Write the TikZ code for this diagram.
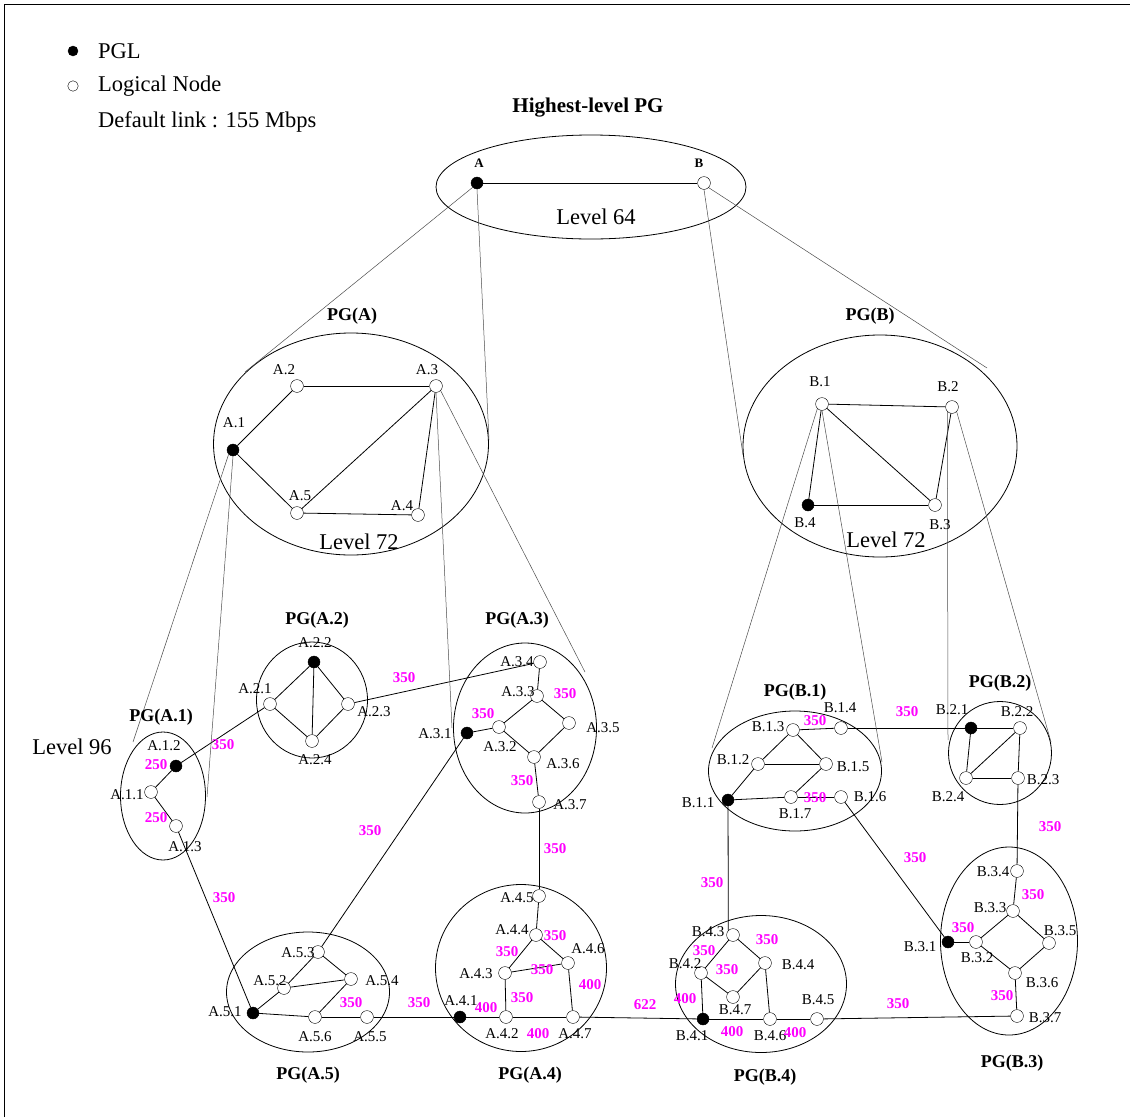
\documentclass[tikz,border=0pt]{standalone}
\usepackage{fontspec}
\setmainfont{Liberation Serif}
\usepackage{xcolor}
\usetikzlibrary{shapes.geometric}
\definecolor{bwmag}{RGB}{255,0,255}

\begin{document}
\begin{tikzpicture}[x=1pt,y=-1pt,
	pgl/.style={circle,draw,fill=black,inner sep=0pt,minimum size=12pt},
	lnode/.style={circle,draw,fill=white,inner sep=0pt,minimum size=12.8pt},
	pgring/.style={ellipse,draw,line width=0.8pt,inner sep=0pt},
	nlab/.style={font=\fontsize{15}{16}\selectfont,inner sep=0pt},
	bw/.style={font=\bfseries\fontsize{15}{16}\selectfont,text=bwmag,inner sep=0pt},
	pgname/.style={font=\bfseries\fontsize{18}{20}\selectfont,inner sep=0pt},
	lvl/.style={font=\fontsize{22.5}{24}\selectfont,inner sep=0pt},
	link/.style={line width=0.8pt},
	proj/.style={line width=0.5pt,black!70}]
	
	\useasboundingbox (0,0) rectangle (1130,1117);
	\draw[line width=0.8pt] (4,1117) -- (4,4) -- (1130,4);
	
	% legend
	\node[pgl,minimum size=10pt] (legPGL) at (73,51) {};
	\node[lnode,minimum size=10.5pt] (legLN) at (73,86) {};
	\node[lvl,anchor=west] (legPGLtxt) at (98,51) {PGL};
	\node[lvl,anchor=west] (legLNtxt) at (98,86) {Logical Node};
	\node[lvl,anchor=west] (legDef) at (98,122) {Default link : 155 Mbps};
	
	% peer groups
	\node[pgring,minimum width=310pt,minimum height=104pt] (pgTop) at (591,187) {};
	\node[pgring,minimum width=275pt,minimum height=222pt] (pgA) at (351,444) {};
	\node[pgring,minimum width=274pt,minimum height=222pt] (pgB) at (880,446) {};
	\node[pgring,minimum width=85pt,minimum height=128pt] (pgA1) at (163,796) {};
	\node[pgring,minimum width=111pt,minimum height=116pt] (pgA2) at (312,700) {};
	\node[pgring,minimum width=143pt,minimum height=170pt] (pgA3) at (525,728) {};
	\node[pgring,minimum width=171pt,minimum height=167pt] (pgA4) at (521,968) {};
	\node[pgring,minimum width=163pt,minimum height=120pt] (pgA5) at (308,992) {};
	\node[pgring,minimum width=173pt,minimum height=120pt] (pgB1) at (795,771) {};
	\node[pgring,minimum width=103pt,minimum height=103pt] (pgB2) at (1000,753) {};
	\node[pgring,minimum width=137pt,minimum height=188pt] (pgB3) at (1009,941) {};
	\node[pgring,minimum width=171pt,minimum height=137pt] (pgB4) at (761,984) {};
	
	% leaders
	\foreach \n/\x/\y in {A/477/183, A1/233/450, B4/808/505, A12/176/766, A22/314/662,
		A31/467/733, A41/460/1017, A51/253/1013, B11/728/800, B21/971/728,
		B31/948/942, B41/703/1019}
		\node[pgl] (\n) at (\x,\y) {};
	
	% logical nodes
	\foreach \n/\x/\y in {B/704/183, A2/297/386, A3/436/386, A4/418/515, A5/297/513,
		B1/822/404, B2/952/407, B3/935/505,
		A11/151/792, A13/176/826,
		A21/270/704, A23/348/704, A24/312/741,
		A32/499/727, A33/537/696, A34/540/662, A35/569/723, A36/534/757, A37/539/802,
		A42/506/1017, A43/505/973, A44/536/935, A45/539/896, A46/568/963, A47/573/1017,
		A52/284/988, A53/318/952, A54/351/979, A55/367/1017, A56/315/1017,
		B12/758/764, B13/793/730, B14/841/728, B15/826/764, B16/841/797, B17/791/797,
		B22/1020/728, B23/1018/778, B24/966/778,
		B32/976/942, B33/1013/911, B34/1017/871, B35/1049/943, B36/1015/973, B37/1017/1016,
		B42/701/973, B43/733/935, B44/765/963, B45/817/1019, B46/770/1019, B47/733/997}
		\node[lnode] (\n) at (\x,\y) {};
	
	% links
	\foreach \u/\v in {A/B, A1/A2, A2/A3, A1/A5, A5/A4, A5/A3, A3/A4,
		B1/B2, B1/B3, B1/B4, B4/B3, B2/B3,
		A11/A12, A11/A13,
		A21/A22, A22/A23, A22/A24, A21/A24, A24/A23,
		A34/A33, A33/A32, A33/A35, A32/A36, A35/A36, A36/A37, A31/A32,
		A45/A44, A44/A43, A44/A46, A43/A46, A43/A42, A46/A47, A41/A42, A42/A47,
		A51/A52, A52/A53, A53/A54, A52/A54, A54/A56, A51/A56, A56/A55,
		B13/B12, B13/B15, B12/B15, B12/B11, B15/B17, B11/B17, B17/B16, B13/B14,
		B21/B22, B21/B24, B24/B22, B24/B23, B22/B23,
		B34/B33, B33/B32, B33/B35, B32/B36, B35/B36, B36/B37, B31/B32,
		B43/B42, B43/B44, B42/B47, B47/B44, B44/B46, B42/B41, B41/B46, B46/B45,
		A12/A21, A23/A34, A13/A51, A31/A53, A37/A45, A55/A41, A47/B41,
		B11/B43.north west, B14/B21, B16/B31, B23/B34, B45/B37}
		\draw[link] (\u) -- (\v);
	
	% projections to the lower level
	\coordinate (tAl) at (245,372);
	\coordinate (tAr) at (489,440);
	\coordinate (tBl) at (743,455);
	\coordinate (tBr) at (987,368);
	\coordinate (tA1l) at (133,742);
	\coordinate (tA1r) at (207,797);
	\coordinate (tA3l) at (452,728);
	\coordinate (tA3r) at (585,672);
	\coordinate (tB1l) at (712,748);
	\coordinate (tB1r) at (882,762);
	\coordinate (tB2l) at (948,740);
	\coordinate (tB2r) at (1051,742);
	\draw[proj] (A.south west) -- (tAl);
	\draw[proj] (A.south) -- (tAr);
	\draw[proj] (B.south) -- (tBl);
	\draw[proj] (B.south east) -- (tBr);
	\draw[proj] (A1.south west) -- (tA1l);
	\draw[proj] (A1.south) -- (tA1r);
	\draw[proj] (A3.south) -- (tA3l);
	\draw[proj] (A3.south east) -- (tA3r);
	\draw[proj] (B1.south west) -- (tB1l);
	\draw[proj] (B1.south) -- (tB1r);
	\draw[proj] (B2.south west) -- (tB2l);
	\draw[proj] (B2.south east) -- (tB2r);
	
	% node names
	\node[nlab,font=\bfseries\fontsize{13}{14}\selectfont] (lA) at (479,163) {A};
	\node[nlab,font=\bfseries\fontsize{13}{14}\selectfont] (lB) at (699,163) {B};
	\foreach \n/\x/\y/\t in {A1/234/423/A.1, A2/284/370/A.2, A3/427/370/A.3, A4/402/506/A.4, A5/300/496/A.5,
		B1/820/382/B.1, B2/948/387/B.2, B3/940/525/B.3, B4/805/523/B.4,
		A11/127/795/A.1.1, A12/164/746/A.1.2, A13/185/847/A.1.3,
		A21/255/689/A.2.1, A22/315/643/A.2.2, A23/374/712/A.2.3, A24/315/760/A.2.4,
		A31/435/734/A.3.1, A32/500/747/A.3.2, A33/518/692/A.3.3, A34/517/662/A.3.4,
		A35/603/728/A.3.5, A36/563/764/A.3.6, A37/570/805/A.3.7,
		A41/461/1001/A.4.1, A42/502/1034/A.4.2, A43/476/974/A.4.3, A44/512/930/A.4.4,
		A45/517/898/A.4.5, A46/588/949/A.4.6, A47/575/1034/A.4.7,
		A51/225/1012/A.5.1, A52/270/981/A.5.2, A53/298/953/A.5.3, A54/382/981/A.5.4,
		A55/370/1037/A.5.5, A56/315/1037/A.5.6,
		B11/698/803/B.1.1, B12/733/760/B.1.2, B13/768/727/B.1.3, B14/840/708/B.1.4,
		B15/853/767/B.1.5, B16/870/797/B.1.6, B17/795/814/B.1.7,
		B21/952/710/B.2.1, B22/1017/712/B.2.2, B23/1043/780/B.2.3, B24/948/797/B.2.4,
		B31/920/947/B.3.1, B32/977/958/B.3.2, B33/990/908/B.3.3, B34/993/872/B.3.4,
		B35/1060/931/B.3.5, B36/1042/983/B.3.6, B37/1045/1018/B.3.7,
		B41/692/1036/B.4.1, B42/685/964/B.4.2, B43/708/932/B.4.3, B44/798/965/B.4.4,
		B45/818/1000/B.4.5, B46/770/1036/B.4.6, B47/735/1010/B.4.7}
		\node[nlab] (l\n) at (\x,\y) {\t};
	
	% bandwidths
	\foreach \x/\y/\t [count=\i] in {156/765/250, 156/818/250,
		565/694/350, 483/714/350, 522/781/350,
		555/936/350, 507/952/350, 542/970/350, 590/985/400, 522/998/350, 486/1008/400, 538/1034/400,
		351/1003/350, 815/721/350, 815/798/350,
		1033/895/350, 963/928/350, 1002/996/350,
		767/940/350, 704/951/350, 727/970/350, 685/999/400, 732/1032/400, 795/1033/400,
		223/745/350, 404/678/350, 224/898/350, 370/831/350, 555/849/350, 419/1003/350,
		645/1005/622, 712/883/350, 907/712/350, 915/858/350, 1050/827/350, 898/1004/350}
		\node[bw] (bw\i) at (\x,\y) {\t};
	
	% group titles
	\node[pgname,font=\bfseries\fontsize{21}{23}\selectfont] (tTop) at (588,108) {Highest-level PG};
	\foreach \n/\x/\y/\t in {A/352/316/PG(A), B/870/316/PG(B),
		A1/161/717/PG(A.1), A2/317/620/PG(A.2), A3/517/620/PG(A.3),
		B1/795/692/PG(B.1), B2/1000/683/PG(B.2), B3/1012/1063/PG(B.3),
		A5/308/1075/PG(A.5), A4/530/1075/PG(A.4), B4/765/1077/PG(B.4)}
		\node[pgname] (t\n) at (\x,\y) {\t};
	
	\node[lvl] (lv64) at (596,217) {Level 64};
	\node[lvl] (lv72a) at (359,542) {Level 72};
	\node[lvl] (lv72b) at (886,540) {Level 72};
	\node[lvl] (lv96) at (72,747) {Level 96};
\end{tikzpicture}
\end{document}
